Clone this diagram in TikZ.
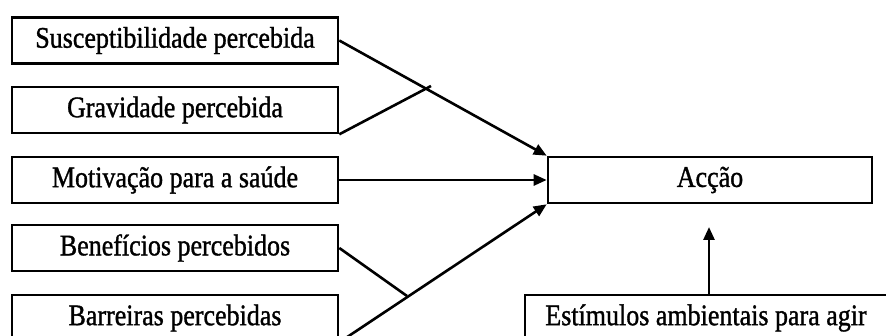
\documentclass[tikz,border=0pt]{standalone}
\usepackage{fontspec}
\setmainfont{Liberation Serif}[FakeBold=1.2]
\usetikzlibrary{arrows.meta}
\newcommand\tallt[1]{\scalebox{1}[1.15]{#1}}
\begin{document}
\begin{tikzpicture}[x=1pt,y=-1pt,
  box/.style={draw,line width=2.6pt,rectangle,inner sep=0pt,minimum height=46pt,
    font=\fontsize{26}{30}\selectfont},
  lbox/.style={box,minimum width=326pt},
  con/.style={line width=2.6pt},
  arr/.style={con,-{Triangle[length=13pt,width=11pt]}}]
\useasboundingbox (0,0) rectangle (886,336);
\clip (0,0) rectangle (886,336);
\fill[white] (0,0) rectangle (886,336);
\node[lbox] (b1) at (175,40.5) {\tallt{Susceptibilidade percebida}};
\node[lbox] (b2) at (175,110) {\tallt{Gravidade percebida}};
\node[lbox] (b3) at (175,180) {\tallt{Motivação para a saúde}};
\node[lbox] (b4) at (175,248) {\tallt{Benefícios percebidos}};
\node[lbox] (b5) at (175,318) {\tallt{Barreiras percebidas}};
\node[box,minimum width=324pt] (acc) at (710,180) {\tallt{Acção}};
\node[box,minimum width=362pt] (est) at (706,318) {\tallt{Estímulos ambientais para agir}};
\coordinate (j1) at (431,86);
\coordinate (j2) at (407,296);
\coordinate (tip) at (709,227);
\draw[arr] (b1.east) -- (acc.north west);
\draw[con] (b2.south east) -- (j1);
\draw[arr] (b3.east) -- (acc.west);
\draw[con] (b4.east) -- (j2);
\draw[arr] (b5.south east) -- (acc.south west);
\draw[arr] (est.north -| tip) -- (tip);
\end{tikzpicture}
\end{document}
